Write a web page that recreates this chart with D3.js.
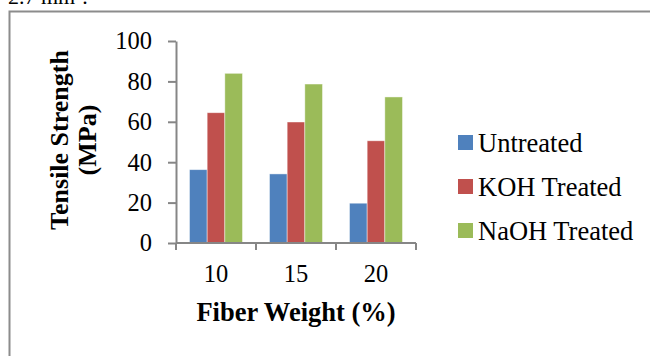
<!DOCTYPE html>
<html>
<head>
<meta charset="utf-8">
<script src="https://cdn.jsdelivr.net/npm/d3@7/dist/d3.min.js"></script>
<style>
  html, body { margin: 0; padding: 0; background: #fff; }
  svg { display: block; }
  text { font-family: "Liberation Serif", "Times New Roman", serif; fill: #000; }
</style>
</head>
<body>
<svg id="chart" width="650" height="356"></svg>
<script>
// Fiber weight categories (%)
const categories = ["10", "15", "20"];
// Series names and their tensile strengths (MPa) per category
const seriesNames = ["Untreated", "KOH Treated", "NaOH Treated"];
const untreated = [36.3, 34.2, 19.7];
const kohTreated = [64.5, 59.9, 50.6];
const naohTreated = [84.0, 78.7, 72.3];
const yTicks = [0, 20, 40, 60, 80, 100];
const seriesColors = ["#4F81BD", "#C0504D", "#9BBB59"];

const seriesValues = [untreated, kohTreated, naohTreated];

const svg = d3.select("#chart");

// Fragment of the preceding paragraph, cut by the top edge
const pre = svg.append("text")
  .attr("x", 8).attr("y", 4)
  .style("font-size", "22px");
pre.append("tspan").text("2.7 mm");
pre.append("tspan").attr("dy", -9).style("font-size", "14px").text("2");
pre.append("tspan").attr("dy", 9).text(".");

// Figure frame (open to the right and bottom)
svg.append("path")
  .attr("d", "M9.5,356 V11.5 H650")
  .attr("fill", "none")
  .attr("stroke", "#8c8c8c")
  .attr("stroke-width", 2);

const plot = { left: 176, right: 416, top: 41, bottom: 243 };

const x = d3.scaleBand()
  .domain(categories)
  .range([plot.left, plot.right])
  .padding(0);

const xInner = d3.scaleBand()
  .domain(seriesNames)
  .range([13.5, x.bandwidth() - 13.5])
  .padding(0);

const y = d3.scaleLinear()
  .domain([0, 100])
  .range([plot.bottom, plot.top]);

const axisColor = "#868686";

// Bars
const groups = svg.append("g").selectAll("g")
  .data(categories)
  .join("g")
  .attr("transform", d => `translate(${x(d)},0)`);

groups.selectAll("rect")
  .data((c, i) => seriesNames.map((s, k) => ({ s, k, v: seriesValues[k][i] })))
  .join("rect")
  .attr("x", d => xInner(d.s))
  .attr("y", d => y(d.v))
  .attr("width", xInner.bandwidth())
  .attr("height", d => y(0) - y(d.v))
  .attr("fill", d => seriesColors[d.k])
  .attr("stroke", "rgba(255,255,255,0.55)")
  .attr("stroke-width", 0.8);

// Y axis
const yAxis = svg.append("g")
  .attr("transform", `translate(${plot.left},0)`)
  .call(d3.axisLeft(y).tickValues(yTicks).tickSize(8).tickPadding(16).tickSizeOuter(0));
yAxis.select(".domain").attr("stroke", axisColor).attr("stroke-width", 2);
yAxis.selectAll(".tick line").attr("stroke", axisColor).attr("stroke-width", 2);
yAxis.selectAll(".tick text")
  .style("font-size", "24.5px")
  .style("font-family", "Liberation Serif, Times New Roman, serif")
  .attr("fill", "#000");

// X axis with ticks on category boundaries
const xAxisG = svg.append("g")
  .attr("transform", `translate(0,${plot.bottom})`);
xAxisG.append("line")
  .attr("x1", plot.left).attr("x2", plot.right)
  .attr("stroke", axisColor).attr("stroke-width", 2);
const boundaries = categories.map(c => x(c)).concat([x(categories[categories.length - 1]) + x.bandwidth()]);
xAxisG.selectAll("line.tk")
  .data(boundaries)
  .join("line")
  .attr("class", "tk")
  .attr("x1", d => d).attr("x2", d => d)
  .attr("y1", 0).attr("y2", 7)
  .attr("stroke", axisColor).attr("stroke-width", 2);
xAxisG.selectAll("text")
  .data(categories)
  .join("text")
  .attr("x", d => x(d) + x.bandwidth() / 2)
  .attr("y", 39)
  .attr("text-anchor", "middle")
  .style("font-size", "24.5px")
  .text(d => d);

// Axis titles
svg.append("text")
  .attr("x", (plot.left + plot.right) / 2)
  .attr("y", 321)
  .attr("text-anchor", "middle")
  .style("font-size", "26.5px")
  .style("font-weight", "bold")
  .text("Fiber Weight (%)");

const yTitle = svg.append("text")
  .attr("transform", "translate(0,140) rotate(-90)")
  .attr("text-anchor", "middle")
  .style("font-size", "26px")
  .style("font-weight", "bold");
yTitle.append("tspan").attr("x", 0).attr("y", 68).text("Tensile Strength");
yTitle.append("tspan").attr("x", 0).attr("y", 96).text("(MPa)");

// Legend
const legend = svg.append("g")
  .selectAll("g")
  .data(seriesNames)
  .join("g")
  .attr("transform", (d, i) => `translate(458,${152 + i * 44})`);
legend.append("rect")
  .attr("x", 0).attr("y", -17)
  .attr("width", 15).attr("height", 15)
  .attr("fill", (d, i) => seriesColors[i]);
legend.append("text")
  .attr("x", 20).attr("y", 0)
  .style("font-size", "26.5px")
  .text(d => d);
</script>
</body>
</html>
